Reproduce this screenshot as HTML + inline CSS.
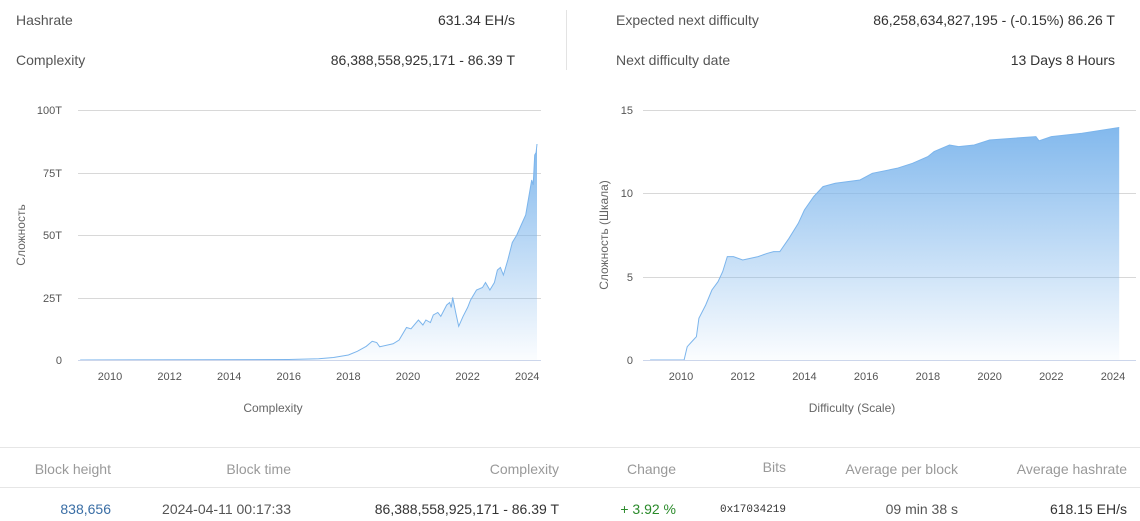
<!DOCTYPE html>
<html><head><meta charset="utf-8"><style>
body{margin:0;width:1140px;height:521px;background:#fff;font-family:"Liberation Sans","Noto Sans CJK SC",sans-serif;position:relative;overflow:hidden;color:#444}
.t{position:absolute;font-size:14px;white-space:nowrap;line-height:16px}
.r{text-align:right}
svg{position:absolute;left:0;top:0}
</style></head><body>
<div class="t" style="left:16px;top:12px;color:#555">Hashrate</div>
<div class="t r" style="right:625px;top:12px;color:#333">631.34 EH/s</div>
<div class="t" style="left:16px;top:52px;color:#555">Complexity</div>
<div class="t r" style="right:625px;top:52px;color:#333">86,388,558,925,171 - 86.39 T</div>
<div style="position:absolute;left:566px;top:10px;width:1px;height:60px;background:#e3e3e3"></div>
<div class="t" style="left:616px;top:12px;color:#555">Expected next difficulty</div>
<div class="t r" style="right:25px;top:12px;color:#333">86,258,634,827,195 - (-0.15%) 86.26 T</div>
<div class="t" style="left:616px;top:52px;color:#555">Next difficulty date</div>
<div class="t r" style="right:25px;top:52px;color:#333">13 Days 8 Hours</div>

<svg width="1140" height="521" id="s">
<defs>
<linearGradient id="g1" x1="0" y1="0" x2="0" y2="1"><stop offset="0" stop-color="#7cb5ec" stop-opacity="0.95"/><stop offset="1" stop-color="#7cb5ec" stop-opacity="0.03"/></linearGradient>
<linearGradient id="g2" x1="0" y1="0" x2="0" y2="1"><stop offset="0" stop-color="#7cb5ec" stop-opacity="0.95"/><stop offset="1" stop-color="#7cb5ec" stop-opacity="0.03"/></linearGradient>
</defs>
<g stroke="#d8d8d8" stroke-width="1">
<line x1="78" x2="541" y1="110.5" y2="110.5"/><line x1="78" x2="541" y1="173.5" y2="173.5"/><line x1="78" x2="541" y1="235.5" y2="235.5"/><line x1="78" x2="541" y1="298.5" y2="298.5"/>
<line x1="643" x2="1136" y1="110.5" y2="110.5"/><line x1="643" x2="1136" y1="193.5" y2="193.5"/><line x1="643" x2="1136" y1="277.5" y2="277.5"/>
</g>
<path id="a1" fill="url(#g1)"/><path id="l1" fill="none" stroke="#7cb5ec" stroke-width="1"/>
<path id="a2" fill="url(#g2)"/><path id="l2" fill="none" stroke="#7cb5ec" stroke-width="1"/>
<g stroke="#ccd6eb"><line x1="78" x2="541" y1="360.5" y2="360.5"/><line x1="643" x2="1136" y1="360.5" y2="360.5"/></g>
<g font-size="11" fill="#555" text-anchor="end">
<text x="62" y="114">100T</text><text x="62" y="177">75T</text><text x="62" y="239">50T</text><text x="62" y="302">25T</text><text x="62" y="364">0</text>
<text x="633" y="114">15</text><text x="633" y="197">10</text><text x="633" y="281">5</text><text x="633" y="364">0</text>
</g>
<g font-size="11" fill="#555" text-anchor="middle" id="xt"></g>
<text x="273" y="412" font-size="12" fill="#666" text-anchor="middle">Complexity</text>
<text x="852" y="412" font-size="12" fill="#666" text-anchor="middle">Difficulty (Scale)</text>
<text transform="translate(25,235) rotate(-90)" font-size="12" fill="#666" text-anchor="middle">Сложность</text>
<text transform="translate(608,235) rotate(-90)" font-size="12" fill="#666" text-anchor="middle">Сложность (Шкала)</text>
<line x1="0" x2="1140" y1="447.5" y2="447.5" stroke="#e6e6e6"/>
<line x1="0" x2="1140" y1="487.5" y2="487.5" stroke="#e6e6e6"/>
</svg>
<script>
function b(data,x0,sx,y0,sy){var p="",pts=data.map(function(d){return [(x0+(d[0]-2010)*sx).toFixed(1),(y0-d[1]*sy).toFixed(1)]});
pts.forEach(function(q,i){p+=(i?"L":"M")+q[0]+" "+q[1]});return [p,p+"L"+pts[pts.length-1][0]+" "+y0+"L"+pts[0][0]+" "+y0+"Z"];}
var d1=[[2009,0],[2016,0.2],[2017,0.5],[2017.5,1],[2018,2],[2018.3,3.5],[2018.6,5.5],[2018.8,7.5],[2018.95,7],[2019.05,5.3],[2019.5,6.5],[2019.7,8],[2019.95,13],[2020.1,12.5],[2020.35,16],[2020.5,14],[2020.6,16],[2020.75,15],[2020.85,18],[2021.0,19],[2021.1,17.5],[2021.3,22],[2021.4,23],[2021.45,21],[2021.5,25],[2021.6,19],[2021.7,13.5],[2021.85,17.5],[2022.0,21],[2022.1,24],[2022.3,28],[2022.5,29],[2022.6,31],[2022.75,28],[2022.9,31],[2023.0,36],[2023.1,37],[2023.2,34],[2023.35,40],[2023.5,47],[2023.65,50],[2023.8,54],[2023.95,58],[2024.05,65],[2024.15,72],[2024.2,70],[2024.25,82],[2024.3,83],[2024.33,86.4]];
var d2=[[2009,0],[2010.1,0],[2010.2,0.8],[2010.4,1.2],[2010.5,1.4],[2010.58,2.5],[2010.8,3.3],[2011.0,4.2],[2011.2,4.7],[2011.35,5.3],[2011.5,6.2],[2011.7,6.2],[2012,6],[2012.5,6.2],[2012.8,6.4],[2013,6.5],[2013.2,6.5],[2013.5,7.3],[2013.8,8.2],[2014,9],[2014.3,9.8],[2014.6,10.4],[2015,10.6],[2015.8,10.8],[2016.2,11.2],[2017,11.5],[2017.5,11.8],[2018,12.2],[2018.2,12.5],[2018.7,12.9],[2019,12.8],[2019.5,12.9],[2020,13.2],[2021.5,13.4],[2021.6,13.15],[2022,13.4],[2023,13.6],[2024.2,13.95]];
var r1=b(d1,110,29.8,360,2.5),r2=b(d2,681,30.86,360,16.67);
document.getElementById("l1").setAttribute("d",r1[0]);document.getElementById("a1").setAttribute("d",r1[1]);
document.getElementById("l2").setAttribute("d",r2[0]);document.getElementById("a2").setAttribute("d",r2[1]);
var xt=document.getElementById("xt"),h="";
for(var y=2010;y<=2024;y+=2){h+='<text x="'+(110+(y-2010)*29.8)+'" y="380">'+y+'</text><text x="'+(681+(y-2010)*30.86)+'" y="380">'+y+'</text>';}
xt.innerHTML=h;
</script>
<div class="t r" style="right:1029px;top:461px;color:#999">Block height</div>
<div class="t r" style="right:849px;top:461px;color:#999">Block time</div>
<div class="t r" style="right:581px;top:461px;color:#999">Complexity</div>
<div class="t r" style="right:464px;top:461px;color:#999">Change</div>
<div class="t r" style="right:354px;top:459px;color:#999">Bits</div>
<div class="t r" style="right:182px;top:461px;color:#999">Average per block</div>
<div class="t r" style="right:13px;top:461px;color:#999">Average hashrate</div>
<div class="t r" style="right:1029px;top:501px;color:#3a6ea5">838,656</div>
<div class="t r" style="right:849px;top:501px;color:#555">2024-04-11 00:17:33</div>
<div class="t r" style="right:581px;top:501px;color:#333">86,388,558,925,171 - 86.39 T</div>
<div class="t r" style="right:464px;top:501px;color:#2a8a2a">+ 3.92 %</div>
<div class="t r" style="right:354px;top:502px;color:#333;font-family:'Liberation Mono',monospace;font-size:11px">0x17034219</div>
<div class="t r" style="right:182px;top:501px;color:#555">09 min 38 s</div>
<div class="t r" style="right:13px;top:501px;color:#333">618.15 EH/s</div>
</body></html>
